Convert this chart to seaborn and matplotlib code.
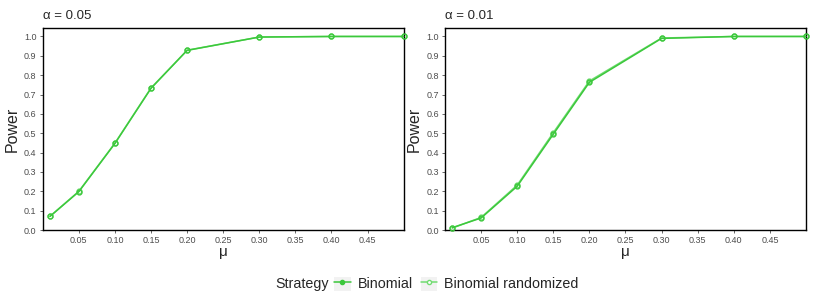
import pandas as pd
import matplotlib.pyplot as plt
import seaborn as sns
from matplotlib.lines import Line2D
from matplotlib.patches import Patch
from matplotlib.legend_handler import HandlerTuple

# valores
mu = [0.01, 0.05, 0.10, 0.15, 0.20, 0.30, 0.40, 0.50]
power_a05_bin = [0.070, 0.198, 0.447, 0.732, 0.928, 0.997, 1.000, 1.000]
power_a05_rand = [0.071, 0.200, 0.449, 0.734, 0.929, 0.997, 1.000, 1.000]
power_a01_bin = [0.012, 0.062, 0.226, 0.495, 0.763, 0.990, 1.000, 1.000]
power_a01_rand = [0.010, 0.065, 0.232, 0.503, 0.770, 0.992, 1.000, 1.000]

estrategias = ["Binomial", "Binomial randomized"]
cores = {"Binomial": "#3CC83C", "Binomial randomized": "#72DC72"}
paineis = [
    ("α = 0.05", power_a05_bin, power_a05_rand),
    ("α = 0.01", power_a01_bin, power_a01_rand),
]
xticks = [0.05, 0.10, 0.15, 0.20, 0.25, 0.30, 0.35, 0.40, 0.45]
yticks = [i / 10 for i in range(11)]

sns.set_theme(style="white")
plt.rcParams["font.family"] = ["Liberation Sans", "DejaVu Sans"]

fig = plt.figure(figsize=(8.17, 3.07), dpi=100)
posicoes = [[0.0523, 0.2508, 0.4418, 0.6588], [0.5447, 0.2508, 0.4418, 0.6588]]

for pos, (titulo, p_bin, p_rand) in zip(posicoes, paineis):
    ax = fig.add_axes(pos)
    df = pd.DataFrame({
        "mu": mu * 2,
        "power": p_bin + p_rand,
        "Strategy": [estrategias[0]] * len(mu) + [estrategias[1]] * len(mu),
    })
    for est in estrategias:
        sub = df[df["Strategy"] == est]
        cheio = est == "Binomial"
        sns.lineplot(
            data=sub, x="mu", y="power", ax=ax, color=cores[est],
            linewidth=1.1, marker="o", markersize=3.5,
            markerfacecolor="none",
            markeredgecolor=cores[est], markeredgewidth=1.0,
            clip_on=False, zorder=3 if cheio else 2, legend=False,
        )
    ax.set_xlim(0, 0.5)
    ax.set_ylim(0, 1.045)
    ax.set_xticks(xticks)
    ax.set_xticklabels([f"{t:.2f}" for t in xticks])
    ax.set_yticks(yticks)
    ax.set_yticklabels([f"{t:.1f}" for t in yticks])
    ax.tick_params(axis="both", labelsize=6.5, colors="#4D4D4D",
                   length=2.5, width=0.6, direction="out", pad=2)
    ax.tick_params(axis="both", which="both", bottom=True, left=True)
    for lado in ax.spines.values():
        lado.set_color("black")
        lado.set_linewidth(1.0)
    ax.set_xlabel("μ", fontsize=11, labelpad=0)
    ax.set_ylabel("Power", fontsize=11.5, labelpad=3)
    ax.set_title(titulo, loc="left", fontsize=9.5, pad=6)

# legenda com fundo cinza nas chaves, estilo ggplot
fundo = Patch(facecolor="#F2F2F2", edgecolor="none")
handles = [
    (fundo, Line2D([], [], color=cores["Binomial"], marker="o", markersize=3,
                   markerfacecolor=cores["Binomial"], linewidth=1.1)),
    (fundo, Line2D([], [], color=cores["Binomial randomized"], marker="o",
                   markersize=3, markerfacecolor="white", linewidth=1.1)),
]
fig.text(0.337, 0.075, "Strategy", fontsize=10.3, va="center", ha="left")
fig.legend(handles, estrategias, loc="center left", bbox_to_anchor=(0.409, 0.075),
           ncol=2, frameon=False, fontsize=10.3, handlelength=1.15, handleheight=1.15,
           handletextpad=0.5, columnspacing=0.55, borderpad=0, borderaxespad=0,
           handler_map={tuple: HandlerTuple(ndivide=1)})

plt.savefig("out.png", dpi=100)
